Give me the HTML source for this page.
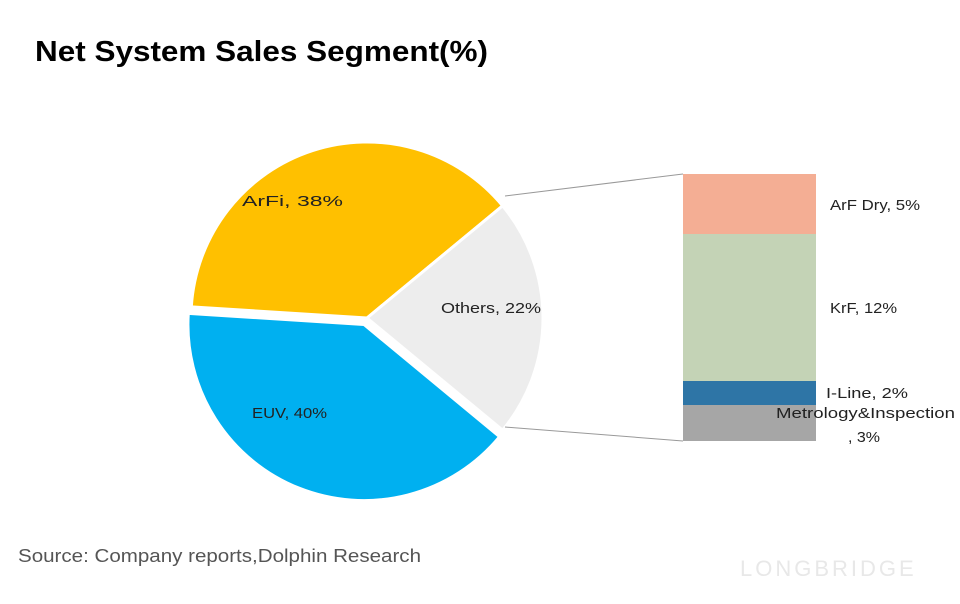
<!DOCTYPE html>
<html><head><meta charset="utf-8"><style>
body{margin:0;background:#fff;}
svg{display:block;font-family:"Liberation Sans","DejaVu Sans",sans-serif;}
</style></head><body>
<svg width="960" height="604" viewBox="0 0 960 604" xmlns="http://www.w3.org/2000/svg">
<rect width="960" height="604" fill="#fff"/>
<text x="35" y="61" font-size="29" font-weight="bold" fill="#000" textLength="453" lengthAdjust="spacingAndGlyphs">Net System Sales Segment(%)</text>
<path d="M367,318 L502.6,205.8 A176,176 0 0,0 191.3,306.9 Z" fill="#FFC000" stroke="#fff" stroke-width="3"/>
<path d="M367,318 L502.6,205.8 A176,176 0 0,1 502.6,430.2 Z" fill="#EDEDED" stroke="#fff" stroke-width="3"/>
<path d="M364,324.5 L499.6,436.7 A176,176 0 0,1 188.3,313.4 Z" fill="#00B0F0" stroke="#fff" stroke-width="3"/>
<text x="242" y="206" font-size="15" fill="#222" textLength="101" lengthAdjust="spacingAndGlyphs">ArFi, 38%</text>
<text x="441" y="313" font-size="15" fill="#222" textLength="100" lengthAdjust="spacingAndGlyphs">Others, 22%</text>
<text x="252" y="418" font-size="15" fill="#222" textLength="75" lengthAdjust="spacingAndGlyphs">EUV, 40%</text>
<line x1="505" y1="196" x2="683" y2="174" stroke="#999" stroke-width="1"/>
<line x1="505" y1="427" x2="683" y2="441" stroke="#999" stroke-width="1"/>
<rect x="683" y="174" width="133" height="60" fill="#F4AE94"/>
<rect x="683" y="234" width="133" height="147" fill="#C4D3B6"/>
<rect x="683" y="381" width="133" height="24" fill="#2E75A6"/>
<rect x="683" y="405" width="133" height="36" fill="#A6A6A6"/>
<text x="830" y="210" font-size="15" fill="#222" textLength="90" lengthAdjust="spacingAndGlyphs">ArF Dry, 5%</text>
<text x="830" y="313" font-size="15" fill="#222" textLength="67" lengthAdjust="spacingAndGlyphs">KrF, 12%</text>
<text x="826" y="398" font-size="15" fill="#222" textLength="82" lengthAdjust="spacingAndGlyphs">I-Line, 2%</text>
<text x="776" y="418" font-size="15" fill="#222" textLength="179" lengthAdjust="spacingAndGlyphs">Metrology&amp;Inspection</text>
<text x="848" y="442" font-size="15" fill="#222" textLength="32" lengthAdjust="spacingAndGlyphs">, 3%</text>
<text x="18" y="562" font-size="18" fill="#555" textLength="403" lengthAdjust="spacingAndGlyphs">Source: Company reports,Dolphin Research</text>
<text x="740" y="576" font-size="22" fill="#e8e8e8" letter-spacing="3">LONGBRIDGE</text>
</svg>
</body></html>
